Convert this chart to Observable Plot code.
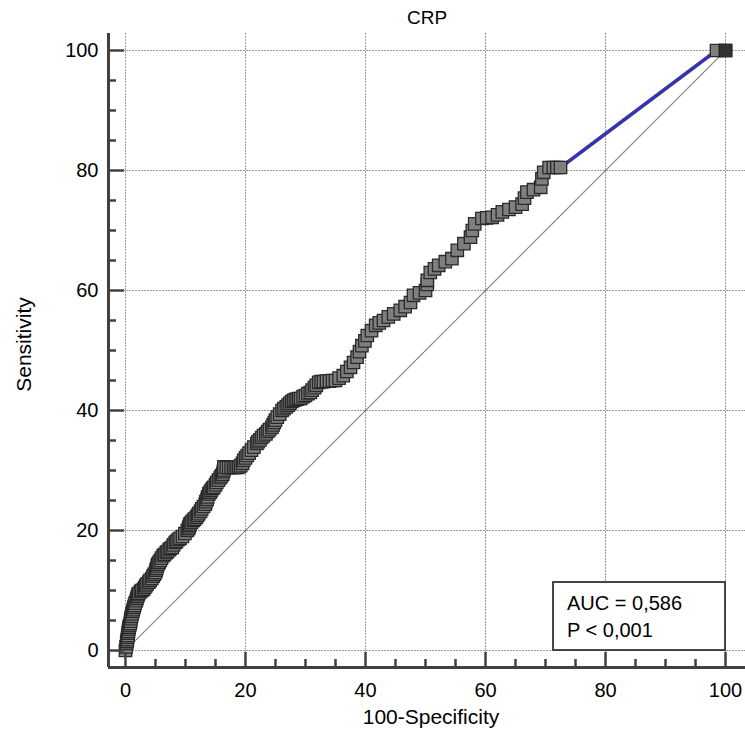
<!DOCTYPE html>
<html><head><meta charset="utf-8">
<script src="https://cdn.jsdelivr.net/npm/d3@7"></script>
<script src="https://cdn.jsdelivr.net/npm/@observablehq/plot@0.6"></script>
<style>
body{margin:0;background:#fff;}
#chart{width:745px;height:742px;}
</style>
</head><body><div id="chart"></div>
<script>
const title = "CRP";
const xLabel = "100-Specificity";
const yLabel = "Sensitivity";
const majorTicks = [0, 20, 40, 60, 80, 100];
const minorTicks = [5, 10, 15, 25, 30, 35, 45, 50, 55, 65, 70, 75, 85, 90, 95];
const diagonal = [0, 100];
const boxLines = ["AUC = 0,586", "P < 0,001"];

// 100-Specificity (false positive rate, %)
const fpr = [
  0, 0.1, 0.2, 0.25, 0.3, 0.35, 0.4, 0.45, 0.5, 0.55, 0.6, 0.7, 0.8, 0.85, 0.9, 1.0, 1.1, 1.2, 1.3, 1.4,
  1.5, 1.6, 1.8, 1.9, 2.0, 2.1, 2.2, 2.5, 2.7, 3.0, 3.2, 3.4, 3.6, 3.9, 4.1, 4.4, 4.6, 4.8, 5.0, 5.1,
  5.2, 5.3, 5.4, 5.6, 5.8, 6.0, 6.3, 6.5, 6.8, 7.0, 7.3, 7.5, 7.8, 8.0, 8.3, 8.5, 8.8, 9.1, 9.5, 9.9,
  10.3, 10.5, 10.6, 10.7, 10.8, 11.0, 11.3, 11.5, 11.8, 12.0, 12.2, 12.5, 12.7, 13.0, 13.3, 13.4, 13.6, 13.7, 13.9, 14.1,
  14.3, 14.5, 14.7, 15.0, 15.2, 15.5, 15.8, 16.0, 16.2, 16.3, 16.4, 16.4, 16.8, 17.2, 17.6, 18.0, 18.3, 18.6, 18.9, 19.2,
  19.5, 19.7, 20.0, 20.3, 20.6, 21.0, 21.4, 21.9, 22.1, 22.4, 22.7, 23.0, 23.4, 23.7, 24.0, 24.4, 24.6, 24.8, 25.0, 25.3,
  25.7, 26.1, 26.4, 26.8, 27.1, 27.4, 27.7, 28.0, 28.3, 28.6, 28.9, 29.2, 29.6, 30.0, 30.4, 30.8, 31.1, 31.5, 31.8, 32.2,
  32.6, 33.0, 33.5, 34.0, 34.5, 35.0,
  35.6, 36.3, 36.9, 37.5, 38.0, 38.6, 39.0, 39.4, 39.9, 40.3, 41.0, 41.7, 42.3, 43.0, 43.8, 44.7, 45.8, 46.6, 47.5, 48.0,
  49.0, 50.0, 50.3, 50.3, 50.8, 51.5, 52.2, 53.3, 54.4, 55.3, 56.4, 57.5, 57.8, 58.2, 59.4, 60.2, 61.1, 62.0, 62.8, 63.9,
  65.0, 66.1, 66.5, 66.9, 68.0, 69.2, 69.4, 69.7, 70.6, 71.3, 71.9, 72.5, 98.5, 100
];
// Sensitivity (true positive rate, %)
const tpr = [
  0, 0.6, 1.2, 1.5, 1.8, 2.2, 2.5, 2.9, 3.2, 3.6, 3.9, 4.2, 4.5, 4.9, 5.3, 5.7, 6.1, 6.5, 6.8, 7.2,
  7.5, 7.9, 8.3, 8.7, 9.0, 9.3, 9.5, 9.8, 10.0, 10.2, 10.5, 10.8, 11.1, 11.4, 11.7, 12.0, 12.4, 12.7, 13.0, 13.4,
  13.7, 14.1, 14.4, 14.7, 15.0, 15.4, 15.8, 16.0, 16.3, 16.5, 16.8, 17.0, 17.2, 17.6, 18.0, 18.2, 18.5, 18.7, 19.0, 19.5,
  20.0, 20.3, 20.6, 20.9, 21.1, 21.4, 21.7, 21.9, 22.2, 22.5, 22.8, 23.2, 23.6, 24.0, 24.4, 24.8, 25.2, 25.6, 26.1, 26.4,
  26.7, 27.0, 27.2, 27.6, 28.0, 28.4, 28.8, 29.1, 29.4, 29.8, 30.1, 30.6, 30.5, 30.5, 30.5, 30.5, 30.5, 30.5, 30.6, 30.8,
  31.2, 31.7, 32.1, 32.5, 32.9, 33.4, 33.9, 34.5, 34.8, 35.1, 35.5, 35.8, 36.1, 36.5, 36.8, 37.2, 37.6, 38.0, 38.4, 38.9,
  39.4, 40.0, 40.3, 40.6, 40.9, 41.2, 41.5, 41.7, 41.8, 41.9, 42.0, 42.0, 42.3, 42.5, 42.8, 43.0, 43.4, 43.8, 44.2, 44.7,
  44.8, 44.8, 44.9, 44.9, 45.0, 45.0,
  45.4, 45.8, 46.5, 47.2, 48.0, 48.9, 49.8, 50.8, 51.6, 52.5, 53.3, 54.2, 54.6, 55.0, 55.6, 56.1, 56.7, 57.3, 58.0, 59.2,
  59.6, 60.0, 61.0, 61.7, 63.0, 63.6, 64.2, 64.8, 65.3, 66.7, 67.8, 68.9, 70.0, 71.1, 72.0, 72.1, 72.2, 72.6, 73.1, 73.5,
  73.9, 74.4, 75.4, 76.4, 76.8, 77.2, 78.6, 79.7, 80.5, 80.5, 80.5, 80.5, 100, 100
];

const points = fpr.map((x, i) => ({x, y: tpr[i]}));
const lo = -2.83;
const axisColor = "#404040";
const font = "Liberation Sans, Arial, sans-serif";

const boxMark = (index, scales) => {
  const right = scales.x(100), bottom = scales.y(0);
  const w = 172, h = 68;
  const g = d3.create("svg:g");
  g.append("rect").attr("x", right - w).attr("y", bottom - h).attr("width", w).attr("height", h)
    .attr("fill", "#fff").attr("stroke", "#333").attr("stroke-width", 1.8);
  boxLines.forEach((t, i) => {
    g.append("text").attr("x", right - w + 14).attr("y", bottom - h + 28 + i * 27)
      .attr("text-anchor", "start")
      .attr("font-size", 20).attr("font-family", font).attr("fill", "#000").text(t);
  });
  return g.node();
};

const chart = Plot.plot({
  width: 745, height: 742,
  marginLeft: 108, marginRight: 0, marginTop: 33, marginBottom: 75,
  x: {domain: [lo, 103.33]},
  y: {domain: [lo, 102.83]},
  style: {fontFamily: font, background: "#fff", color: "#000"},
  marks: [
    Plot.gridX({ticks: majorTicks, stroke: "#999", strokeOpacity: 1, strokeDasharray: "2,1"}),
    Plot.gridY({ticks: majorTicks, stroke: "#999", strokeOpacity: 1, strokeDasharray: "2,1"}),
    Plot.line(diagonal, {x: d => d, y: d => d, stroke: "#888", strokeWidth: 1.2, strokeDasharray: "2,1"}),
    Plot.line(points, {x: "x", y: "y", stroke: "#3535a5", strokeWidth: 3.5}),
    Plot.dot(points, {x: "x", y: "y", symbol: "square", r: 7, fill: "#7f7f7f", stroke: "#2a2a2a", strokeWidth: 1.3}),
    Plot.dot(points.slice(-1), {x: "x", y: "y", symbol: "square", r: 7, fill: "#333", stroke: "#2a2a2a", strokeWidth: 1.3}),
    boxMark,
    Plot.ruleX([lo], {stroke: axisColor, strokeWidth: 3}),
    Plot.ruleY([lo], {stroke: axisColor, strokeWidth: 3}),
    Plot.axisX({anchor: "bottom", ticks: majorTicks, tickSize: 15, dy: -15, fill: "none", label: null, stroke: axisColor, strokeWidth: 2.5}),
    Plot.axisX({anchor: "bottom", ticks: minorTicks, tickSize: 8, dy: -8, fill: "none", label: null, stroke: axisColor, strokeWidth: 2.5}),
    Plot.axisY({anchor: "left", ticks: majorTicks, tickSize: 16, dx: 16, fill: "none", label: null, stroke: axisColor, strokeWidth: 2.5}),
    Plot.axisY({anchor: "left", ticks: minorTicks, tickSize: 8, dx: 8, fill: "none", label: null, stroke: axisColor, strokeWidth: 2.5}),
    Plot.axisX({anchor: "bottom", ticks: majorTicks, tickSize: 0, tickPadding: 15, fontSize: 20, label: null, fill: "#000"}),
    Plot.axisY({anchor: "left", ticks: majorTicks, tickSize: 0, tickPadding: 10, fontSize: 20, label: null, fill: "#000"}),
    Plot.text([title], {frameAnchor: "top", dy: -23, fontSize: 19, fill: "#000"}),
    Plot.text([xLabel], {frameAnchor: "bottom", dy: 56, dx: 4, fontSize: 21, fill: "#000"}),
    Plot.text([yLabel], {frameAnchor: "left", textAnchor: "middle", rotate: -90, dx: -84, dy: -6, fontSize: 21, fill: "#000"})
  ]
});
document.getElementById("chart").appendChild(chart);
</script>
</body></html>
